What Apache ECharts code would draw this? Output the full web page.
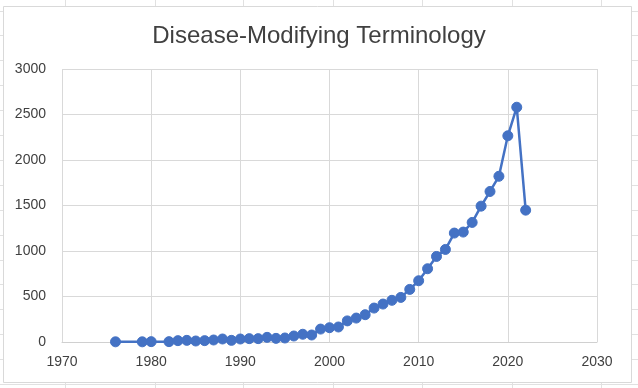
<!DOCTYPE html>
<html>
<head>
<meta charset="utf-8">
<script src="https://cdn.jsdelivr.net/npm/echarts@6/dist/echarts.min.js"></script>
<style>
html,body{margin:0;padding:0;background:#fff;}
#c{width:638px;height:388px;}
</style>
</head>
<body>
<div id="c"></div>
<script>
const years = [1976,1979,1980,1982,1983,1984,1985,1986,1987,1988,1989,1990,1991,1992,1993,1994,1995,1996,1997,1998,1999,2000,2001,2002,2003,2004,2005,2006,2007,2008,2009,2010,2011,2012,2013,2014,2015,2016,2017,2018,2019,2020,2021,2022];
const counts = [2,2,4,4,15,18,11,15,22,33,18,33,37,37,51,40,44,66,85,77,142,157,165,232,263,300,373,417,458,490,578,673,805,940,1017,1197,1208,1314,1493,1654,1821,2266,2580,1449];
const xTicks = [1970,1980,1990,2000,2010,2020,2030];
const yTicks = [0,500,1000,1500,2000,2500,3000];
const title = 'Disease-Modifying Terminology';

const chart = echarts.init(document.getElementById('c'), null, {renderer:'canvas'});

// spreadsheet background lines (decoration)
const bg = [];
const colX = [65,155,243,333,422,512,601];
const rowY = [];
for (let i = 0; i < 16; i++) rowY.push(10.5 + i * 24.9);
colX.forEach(x => bg.push({type:'line', z:-10, shape:{x1:x+0.5,y1:0,x2:x+0.5,y2:388}, style:{stroke:'#e1e1e1',lineWidth:1}}));
rowY.forEach(y => bg.push({type:'line', z:-10, shape:{x1:0,y1:Math.round(y)+0.5,x2:638,y2:Math.round(y)+0.5}, style:{stroke:'#e1e1e1',lineWidth:1}}));
bg.push({type:'rect', z:-5, shape:{x:3.5,y:6.5,width:628,height:376}, style:{fill:'#fff',stroke:'#d9d9d9',lineWidth:1}});

chart.setOption({
  animation:false,
  backgroundColor:'#fff',
  graphic: bg,
  title:{
    text:title, left:'center', top:19,
    textStyle:{fontFamily:'Liberation Sans', fontSize:24, fontWeight:'normal', color:'#404040'}
  },
  grid:{left:62, right:41, top:69, bottom:46},
  xAxis:{
    type:'value', min:xTicks[0], max:xTicks[xTicks.length-1], interval:10,
    axisLine:{show:true, lineStyle:{color:'#d0d0d0', width:1}},
    axisTick:{show:false},
    splitLine:{show:true, lineStyle:{color:'#d9d9d9', width:1}},
    axisLabel:{color:'#404040', fontFamily:'Liberation Sans', fontSize:14, margin:13, formatter: v => String(v)}
  },
  yAxis:{
    type:'value', min:yTicks[0], max:yTicks[yTicks.length-1], interval:500,
    axisLine:{show:false},
    axisTick:{show:false},
    splitLine:{show:true, lineStyle:{color:'#d9d9d9', width:1}},
    axisLabel:{color:'#404040', fontFamily:'Liberation Sans', fontSize:14, margin:16, formatter: v => String(v)}
  },
  series:[{
    type:'line',
    data: years.map((y,i)=>[y,counts[i]]),
    symbol:'circle', symbolSize:10,
    lineStyle:{color:'#4472C4', width:2.5},
    itemStyle:{color:'#4472C4', borderColor:'#4472C4'}
  }]
});
</script>
</body>
</html>
